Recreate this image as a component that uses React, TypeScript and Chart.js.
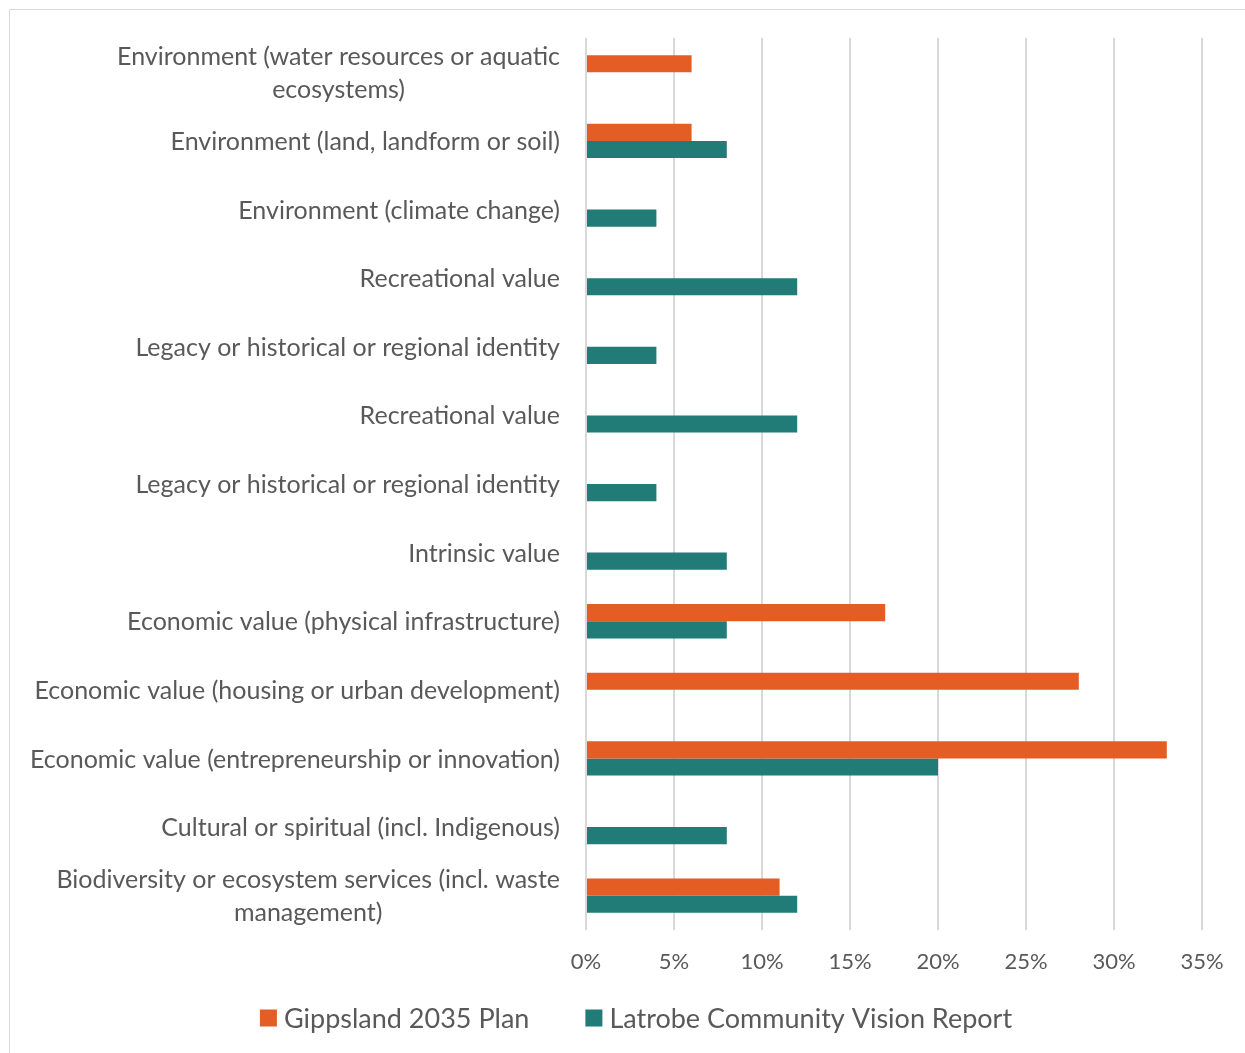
import React, { useEffect, useRef } from "react";
import { Chart, registerables } from "chart.js";

Chart.register(...registerables);

const categories: (string | string[])[] = [
  ["Environment (water resources or aquatic", "ecosystems)"],
  "Environment (land, landform or soil)",
  "Environment (climate change)",
  "Recreational value",
  "Legacy or historical or regional identity",
  "Recreational value",
  "Legacy or historical or regional identity",
  "Intrinsic value",
  "Economic value (physical infrastructure)",
  "Economic value (housing or urban development)",
  "Economic value (entrepreneurship or innovation)",
  "Cultural or spiritual (incl. Indigenous)",
  ["Biodiversity or ecosystem services (incl. waste", "management)"],
];

const gippslandValues = [6, 6, 0, 0, 0, 0, 0, 0, 17, 28, 33, 0, 11];
const latrobeValues = [0, 8, 4, 12, 4, 12, 4, 8, 8, 0, 20, 8, 12];

const seriesNames = ["Gippsland 2035 Plan", "Latrobe Community Vision Report"];
const seriesColors = ["#E45D25", "#217B76"];

const xMin = 0;
const xMax = 35;
const xStep = 5;

const FONT = "Lato, 'Open Sans', sans-serif";
const TEXT = "#595959";
const GRID = "#D9D9D9";

const frameAndLabels = {
  id: "frameAndLabels",
  beforeDraw(chart: any) {
    const ctx = chart.ctx;
    ctx.save();
    ctx.strokeStyle = GRID;
    ctx.lineWidth = 1;
    ctx.beginPath();
    ctx.moveTo(9.5, chart.height);
    ctx.lineTo(9.5, 9.5);
    ctx.lineTo(chart.width, 9.5);
    ctx.stroke();
    ctx.restore();
  },
  afterDraw(chart: any) {
    const ctx = chart.ctx;
    const yScale = chart.scales.y;
    const right = chart.chartArea.left - 26;
    const lineH = 33;
    ctx.save();
    ctx.fillStyle = TEXT;
    ctx.font = `25px ${FONT}`;
    ctx.textBaseline = "middle";
    categories.forEach((lab, i) => {
      const lines = Array.isArray(lab) ? lab : [lab];
      const yc = yScale.getPixelForValue(i);
      const widths = lines.map((l) => ctx.measureText(l).width);
      const maxW = Math.max(...widths);
      const cx = right - maxW / 2;
      const y0 = yc - ((lines.length - 1) * lineH) / 2;
      ctx.textAlign = "center";
      lines.forEach((l, k) => {
        ctx.fillText(l, cx, y0 + k * lineH + 1);
      });
    });

    // legend
    const box = 17;
    const gapBoxText = 7;
    const gapItems = 56;
    ctx.font = `27px ${FONT}`;
    const tw = seriesNames.map((n) => ctx.measureText(n).width);
    const total = tw.reduce((a, w) => a + box + gapBoxText + w, 0) + gapItems * (seriesNames.length - 1);
    let x = 636 - total / 2;
    const ly = 1018;
    ctx.textAlign = "left";
    seriesNames.forEach((n, i) => {
      ctx.fillStyle = seriesColors[i];
      ctx.fillRect(x, ly - box / 2, box, box);
      x += box + gapBoxText;
      ctx.fillStyle = TEXT;
      ctx.fillText(n, x, ly + 1);
      x += tw[i] + gapItems;
    });
    ctx.restore();
  },
};

export default function App() {
  const ref = useRef<HTMLCanvasElement | null>(null);

  useEffect(() => {
    if (!ref.current) return;
    const chart = new Chart(ref.current, {
      type: "bar",
      data: {
        labels: categories.map((c) => (Array.isArray(c) ? c.join(" ") : c)),
        datasets: [
          {
            label: seriesNames[0],
            data: gippslandValues,
            backgroundColor: seriesColors[0],
            borderWidth: 0,
          },
          {
            label: seriesNames[1],
            data: latrobeValues,
            backgroundColor: seriesColors[1],
            borderWidth: 0,
          },
        ],
      },
      options: {
        indexAxis: "y",
        animation: false,
        responsive: true,
        maintainAspectRatio: false,
        layout: { padding: { left: 0, right: 43, top: 38, bottom: 63 } },
        datasets: { bar: { categoryPercentage: 0.5, barPercentage: 1 } },
        plugins: {
          legend: { display: false },
          tooltip: { enabled: false },
        },
        scales: {
          x: {
            min: xMin,
            max: xMax,
            ticks: {
              stepSize: xStep,
              color: TEXT,
              font: { family: FONT, size: 22 },
              padding: 19,
              callback: (v: any) => `${v}%`,
            },
            grid: { color: GRID, lineWidth: 2, drawTicks: false },
            border: { display: false },
            afterFit: (s: any) => {
              s.height = 60;
            },
          },
          y: {
            ticks: { display: false },
            grid: { display: false },
            border: { display: false },
            afterFit: (s: any) => {
              s.width = 586;
            },
          },
        },
      },
      plugins: [frameAndLabels],
    });
    return () => chart.destroy();
  }, []);

  return (
    <div style={{ position: "fixed", left: 0, top: 0, width: 1245, height: 1053, background: "#fff" }}>
      <canvas ref={ref} />
    </div>
  );
}
